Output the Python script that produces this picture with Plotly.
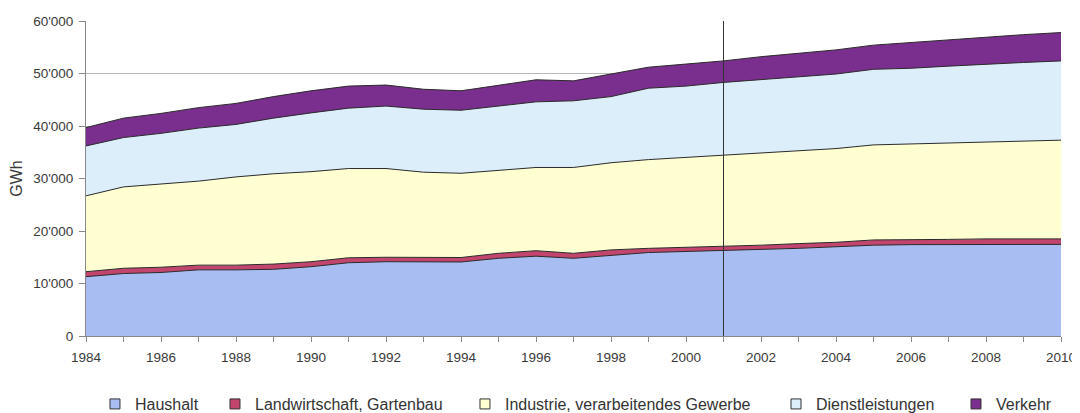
import plotly.graph_objects as go

years = list(range(1984, 2011))

haushalt = [11300, 11900, 12100, 12600, 12600, 12700, 13200, 13950, 14150, 14150,
            14100, 14800, 15200, 14800, 15400, 15900, 16100, 16250, 16500, 16700,
            16950, 17300, 17400, 17400, 17450, 17450, 17450]
landwirtschaft = [950, 1000, 1000, 900, 900, 1000, 950, 950, 850, 850,
                  850, 950, 1050, 950, 1000, 800, 800, 750, 800, 900,
                  900, 1000, 900, 1000, 1050, 1050, 1050]
industrie = [14450, 15500, 15850, 16000, 16800, 17200, 17150, 17000, 16900, 16200,
             16050, 15850, 15850, 16350, 16600, 16900, 17100, 17400, 17600, 17700,
             17850, 18100, 18300, 18400, 18500, 18600, 18800]
dienstleistungen = [9500, 9400, 9650, 10100, 10000, 10600, 11200, 11500, 11900, 12000,
                    12000, 12200, 12500, 12700, 12600, 13600, 13600, 13900, 13900, 14000,
                    14200, 14400, 14400, 14600, 14800, 15000, 15100]
verkehr = [3500, 3700, 3800, 3900, 4000, 4100, 4200, 4200, 4000, 3800,
           3700, 4000, 4200, 3800, 4300, 4000, 4200, 4100, 4400, 4500,
           4600, 4600, 4900, 5100, 5200, 5300, 5400]

series_names = ["Haushalt", "Landwirtschaft, Gartenbau", "Industrie, verarbeitendes Gewerbe",
                "Dienstleistungen", "Verkehr"]
series_values = [haushalt, landwirtschaft, industrie, dienstleistungen, verkehr]
series_colors = ["#A8BEF3", "#C2456E", "#FFFFD2", "#DCEEFA", "#7A2E8E"]

marker_year = 2001

# legend entry positions (paper x) for each series
legend_x = [0.0092, 0.1323, 0.3887, 0.7077, 0.8923]

# page body has an 8px margin; size the figure so it fits the 1080x413 window
W, H = 1072, 405
L, R, T, B = 78, 19, 13, 77

fig = go.Figure()
for name, vals, col in zip(series_names, series_values, series_colors):
    fig.add_trace(go.Scatter(
        x=years, y=vals, name=name, stackgroup="one", mode="lines",
        line=dict(color="#2a2a2a", width=1), fillcolor=col,
        showlegend=False, legendgroup=name,
        hoverinfo="x+y+name",
    ))
for i, (name, col) in enumerate(zip(series_names, series_colors)):
    lg = "legend" if i == 0 else f"legend{i+1}"
    fig.add_trace(go.Scatter(
        x=[None], y=[None], name=name, mode="markers",
        marker=dict(symbol="square", size=10, color=col, line=dict(color="#333333", width=1)),
        legendgroup=name, legend=lg, showlegend=True,
    ))

legend_common = dict(orientation="h", y=-0.162, yanchor="top", xanchor="left",
                     font=dict(size=16, color="#333333"), bgcolor="rgba(0,0,0,0)",
                     itemwidth=30)
legends = {}
for i, lx in enumerate(legend_x):
    key = "legend" if i == 0 else f"legend{i+1}"
    legends[key] = dict(legend_common, x=lx)

fig.add_shape(type="line", xref="x", yref="paper", x0=marker_year, x1=marker_year,
              y0=0, y1=1, line=dict(color="#333333", width=1))

fig.update_layout(
    width=W, height=H,
    margin=dict(l=L, r=R, t=T, b=B, autoexpand=False),
    paper_bgcolor="white", plot_bgcolor="white",
    separators=".'",
    font=dict(family="Liberation Sans, Arial, sans-serif", size=13, color="#3a3a3a"),
    showlegend=True,
    xaxis=dict(range=[1984, 2010], tick0=1984, dtick=2, ticks="outside", ticklen=5,
               tickcolor="#888888", showgrid=False, zeroline=False, automargin=False,
               showline=True, linecolor="#888888", linewidth=1,
               tickfont=dict(size=13.5), ticklabelstandoff=4,
               minor=dict(dtick=1, tick0=1984, ticks="outside", ticklen=5, tickcolor="#888888")),
    yaxis=dict(range=[0, 60000], dtick=10000, tickformat=",d", ticks="outside", ticklen=6,
               tickcolor="#888888", showgrid=True, gridcolor="#b8b8b8", gridwidth=1,
               zeroline=False, showline=True, linecolor="#888888", linewidth=1,
               automargin=False, ticklabelstandoff=3,
               title=dict(text="GWh", font=dict(size=16), standoff=8),
               tickfont=dict(size=13.5)),
    **legends,
)

fig.write_html("out.html")
